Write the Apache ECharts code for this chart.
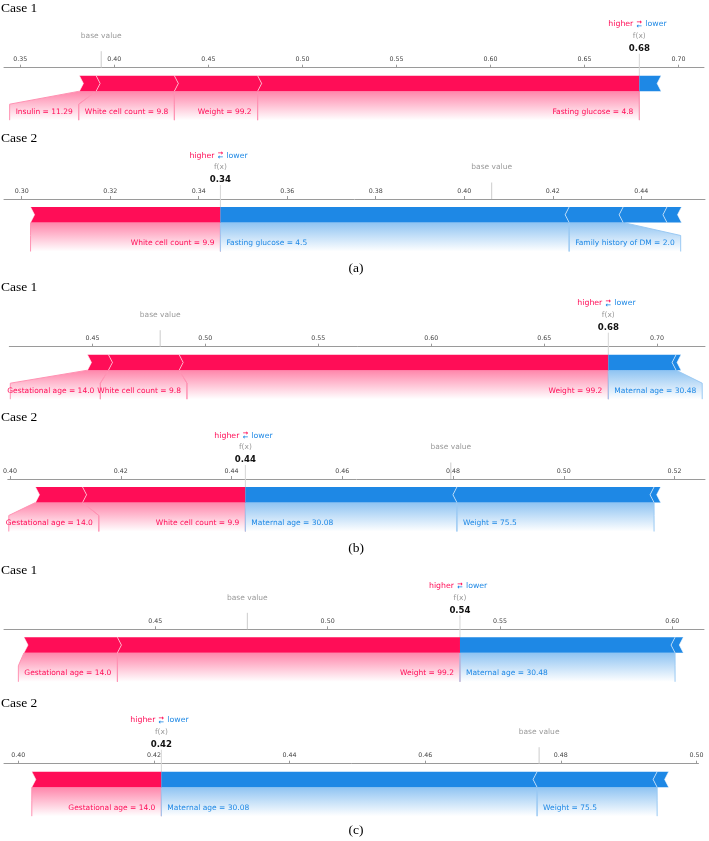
<!DOCTYPE html>
<html><head><meta charset="utf-8">
<script src="https://cdn.jsdelivr.net/npm/echarts@6/dist/echarts.min.js"></script>
<style>html,body{margin:0;padding:0;background:#fff}#c{width:709px;height:841px}</style>
</head><body><div id="c"></div><script>
// ---------------- data ----------------
const caseTitles = ['Case 1', 'Case 2', 'Case 1', 'Case 2', 'Case 1', 'Case 2'];
const groupLabels = ['(a)', '(b)', '(c)'];
const baseValues = [0.3930, 0.4062, 0.4800, 0.4796, 0.4767, 0.4768];

const a1Names = ['Fasting glucose = 4.8', 'Weight = 99.2', 'White cell count = 9.8', 'Insulin = 11.29', ''];
const a1Effects = [0.2030, 0.0443, 0.0416, 0.0089, -0.0116];
const a2Names = ['White cell count = 9.9', 'Fasting glucose = 4.5', 'Family history of DM = 2.0', '', ''];
const a2Effects = [0.0429, -0.0788, -0.0122, -0.0099, -0.0033];
const b1Names = ['Weight = 99.2', 'White cell count = 9.8', 'Gestational age = 14.0', 'Maternal age = 30.48', ''];
const b1Effects = [0.1900, 0.0313, 0.0093, -0.0300, -0.0022];
const b2Names = ['White cell count = 9.9', 'Gestational age = 14.0', 'Maternal age = 30.08', 'Weight = 75.5', ''];
const b2Effects = [0.0294, 0.0085, -0.0382, -0.0356, -0.0012];
const c1Names = ['Weight = 99.2', 'Gestational age = 14.0', 'Maternal age = 30.48', ''];
const c1Effects = [0.0994, 0.0271, -0.0624, -0.0024];
const c2Names = ['Gestational age = 14.0', 'Maternal age = 30.08', 'Weight = 75.5', ''];
const c2Effects = [0.0191, -0.0554, -0.0177, -0.0017];

const a1Ticks = [0.35, 0.40, 0.45, 0.50, 0.55, 0.60, 0.65, 0.70];
const a2Ticks = [0.30, 0.32, 0.34, 0.36, 0.38, 0.40, 0.42, 0.44];
const b1Ticks = [0.45, 0.50, 0.55, 0.60, 0.65, 0.70];
const b2Ticks = [0.40, 0.42, 0.44, 0.46, 0.48, 0.50, 0.52];
const c1Ticks = [0.45, 0.50, 0.55, 0.60];
const c2Ticks = [0.40, 0.42, 0.44, 0.46, 0.48, 0.50];

const axisMins = [0.3413, 0.2960, 0.4132, 0.3996, 0.4061, 0.3979];
const axisMaxs = [0.7136, 0.4544, 0.7212, 0.5255, 0.6092, 0.5003];

// ---------------- layout / style ----------------
const RED = '#ff0d57', BLUE = '#1e88e5';
const RED_LINE = '#ff92b3', BLUE_LINE = '#9ac9f3';
const axisY = [67.7, 199, 346.7, 479, 629.3, 763.7];
const gridLeft = [4, 4, 9.3, 4, 4, 4];
const gridRight = [5, 4, 4, 4, 5, 10.5];
const titleY = [8, 138, 287, 417, 570.7, 703.3];
const groupY = [268, 548, 830];
const SANS = '"DejaVu Sans"';
const LABEL_FONT = '7.5px ' + SANS;

const panelNames = [a1Names, a2Names, b1Names, b2Names, c1Names, c2Names];
const panelEffects = [a1Effects, a2Effects, b1Effects, b2Effects, c1Effects, c2Effects];
const panelTicks = [a1Ticks, a2Ticks, b1Ticks, b2Ticks, c1Ticks, c2Ticks];

const panels = panelNames.map((names, p) => {
  const effects = panelEffects[p];
  const base = baseValues[p];
  const fx = base + effects.reduce((a, b) => a + b, 0);
  const segs = [];
  let posCum = 0, negCum = 0, firstPos = true, firstNeg = true;
  effects.forEach((e, i) => {
    if (e > 0) {
      const x1 = fx - posCum, x0 = x1 - e; posCum += e;
      segs.push({ x0, x1, sign: 1, name: names[i], atFx: firstPos }); firstPos = false;
    } else {
      const x0 = fx + negCum, x1 = x0 - e; negCum -= e;
      segs.push({ x0, x1, sign: -1, name: names[i], atFx: firstNeg }); firstNeg = false;
    }
  });
  return { base, fx, segs };
});

const mctx = document.createElement('canvas').getContext('2d');
function textWidth(s) { mctx.font = LABEL_FONT; return mctx.measureText(s).width; }
function rgba(hex, a) {
  const n = parseInt(hex.slice(1), 16);
  return 'rgba(' + (n >> 16) + ',' + ((n >> 8) & 255) + ',' + (n & 255) + ',' + a + ')';
}

function computeLayout(p, api, cs) {
  const P = panels[p];
  const fxPx = api.coord([P.fx, 0])[0];
  const pad = 6, out = {}, pos = [], neg = [];
  let prevL = fxPx, prevR = fxPx;
  P.segs.forEach((s, i) => {
    if (!s.name) return;
    const L = api.coord([s.x0, 0])[0], R = api.coord([s.x1, 0])[0];
    const tw = textWidth(s.name);
    if (s.sign > 0) {
      const rR = Math.min(R, prevL);
      const rL = Math.min(L, rR - tw - 2 * pad);
      prevL = rL;
      const o = { rL, rR, tw }; pos.push(o); out[i] = o;
    } else {
      const rL = Math.max(L, prevR);
      const rR = Math.max(R, rL + tw + 2 * pad);
      prevR = rR;
      const o = { rL, rR, tw }; neg.push(o); out[i] = o;
    }
  });
  const leftLim = cs.x + 1, rightLim = cs.x + cs.width - 1;
  if (pos.length && pos[pos.length - 1].rL < leftLim) {
    let lim = leftLim;
    for (let k = pos.length - 1; k >= 0; k--) {
      const o = pos[k]; o.rL = Math.max(o.rL, lim); o.rR = Math.max(o.rR, o.rL + o.tw + 3); lim = o.rR;
    }
  }
  if (neg.length && neg[neg.length - 1].rR > rightLim) {
    let lim = rightLim;
    for (let k = neg.length - 1; k >= 0; k--) {
      const o = neg[k]; o.rR = Math.min(o.rR, lim); o.rL = Math.min(o.rL, o.rR - o.tw - 3); lim = o.rL;
    }
  }
  return out;
}

function makeFeatureRenderer(p) {
  return function (params, api) {
    const cs = params.coordSys;
    const Y = cs.y;
    const top = Y + 8, bot = Y + 23.5, mid = (top + bot) / 2, slant = bot + 13, low = Y + 52.5;
    const seg = panels[p].segs[params.dataIndex];
    const L = api.coord([api.value(0), 0])[0];
    const R = api.coord([api.value(1), 0])[0];
    const h = 4;
    const color = seg.sign > 0 ? RED : BLUE;
    const children = [];
    let pts, notch;
    if (seg.sign > 0) {
      const tip = seg.atFx ? 0 : h;
      pts = [[L, top], [R, top], [R + tip, mid], [R, bot], [L, bot], [L + h, mid]];
      notch = [[L, top], [L + h, mid], [L, bot]];
    } else {
      const tip = seg.atFx ? 0 : h;
      pts = [[L, top], [R, top], [R - h, mid], [R, bot], [L, bot], [L - tip, mid]];
      notch = [[R, top], [R - h, mid], [R, bot]];
    }
    children.push({ type: 'polygon', shape: { points: pts }, style: { fill: color }, z2: 5 });
    children.push({ type: 'polyline', shape: { points: notch }, style: { stroke: 'rgba(255,255,255,0.6)', lineWidth: 1, fill: null }, z2: 6 });
    if (seg.name) {
      const lay = computeLayout(p, api, cs)[params.dataIndex];
      const rL = lay.rL, rR = lay.rR;
      const lc = seg.sign > 0 ? RED_LINE : BLUE_LINE;
      children.push({
        type: 'polygon',
        shape: { points: [[L, bot], [R, bot], [rR, slant], [rR, low], [rL, low], [rL, slant]] },
        style: { fill: new echarts.graphic.LinearGradient(0, 0, 0, 1, [
          { offset: 0, color: rgba(color, 0.5) }, { offset: 1, color: rgba(color, 0) }]) },
        z2: 1
      });
      children.push({ type: 'polyline', shape: { points: [[L, bot], [rL, slant], [rL, low]] }, style: { stroke: lc, lineWidth: 1, fill: null }, z2: 2 });
      children.push({ type: 'polyline', shape: { points: [[R, bot], [rR, slant], [rR, low]] }, style: { stroke: lc, lineWidth: 1, fill: null }, z2: 2 });
      children.push({
        type: 'text', z2: 10,
        style: {
          text: seg.name, x: seg.sign > 0 ? rR - 6 : rL + 6, y: Y + 44,
          align: seg.sign > 0 ? 'right' : 'left', verticalAlign: 'middle',
          font: LABEL_FONT, fill: color
        }
      });
    }
    return { type: 'group', children };
  };
}

function makeAnnotRenderer(p) {
  return function (params, api) {
    const cs = params.coordSys;
    const Y = cs.y;
    const bx = api.coord([api.value(0), 0])[0];
    const fxx = api.coord([api.value(1), 0])[0];
    const fxVal = panels[p].fx;
    return {
      type: 'group',
      children: [
        { type: 'line', shape: { x1: bx, y1: Y - 16.5, x2: bx, y2: Y }, style: { stroke: '#cccccc', lineWidth: 1 } },
        { type: 'text', style: { text: 'base value', x: bx, y: Y - 31.7, align: 'center', verticalAlign: 'middle', font: '7.5px ' + SANS, fill: '#9a9a9a' } },
        { type: 'line', shape: { x1: fxx, y1: Y - 14, x2: fxx, y2: Y + 52.5 }, style: { stroke: '#d6d6d6', lineWidth: 1 } },
        { type: 'text', style: { text: 'higher', x: fxx - 6, y: Y - 43.3, align: 'right', verticalAlign: 'middle', font: '7.8px ' + SANS, fill: RED } },
        { type: 'text', style: { text: 'lower', x: fxx + 6, y: Y - 43.3, align: 'left', verticalAlign: 'middle', font: '7.8px ' + SANS, fill: BLUE } },
        { type: 'text', style: { text: '\u2192', x: fxx, y: Y - 45.3, align: 'center', verticalAlign: 'middle', font: 'bold 6.5px ' + SANS, fill: RED } },
        { type: 'text', style: { text: '\u2190', x: fxx, y: Y - 41.5, align: 'center', verticalAlign: 'middle', font: 'bold 6.5px ' + SANS, fill: BLUE } },
        { type: 'text', style: { text: 'f(x)', x: fxx, y: Y - 31.7, align: 'center', verticalAlign: 'middle', font: '7.5px ' + SANS, fill: '#9a9a9a' } },
        { type: 'text', style: { text: fxVal.toFixed(2), x: fxx, y: Y - 19, align: 'center', verticalAlign: 'middle', font: 'bold 8.6px ' + SANS, fill: '#111' } }
      ]
    };
  };
}

// ---------------- option ----------------
const grids = [], xAxes = [], yAxes = [], series = [];
panels.forEach((P, p) => {
  grids.push({ left: gridLeft[p], right: gridRight[p], top: axisY[p], height: 53 });
  xAxes.push({
    gridIndex: p, type: 'value', position: 'top', min: axisMins[p], max: axisMaxs[p],
    axisLine: { onZero: false, lineStyle: { color: '#9a9a9a', width: 1 } },
    axisTick: { show: true, length: 3, customValues: panelTicks[p], lineStyle: { color: '#9a9a9a' } },
    axisLabel: { customValues: panelTicks[p], formatter: v => v.toFixed(2), fontSize: 6.3, fontFamily: 'DejaVu Sans', color: '#444', margin: 5 },
    splitLine: { show: false }
  });
  yAxes.push({ gridIndex: p, type: 'value', min: 0, max: 1, show: false });
  series.push({
    type: 'custom', xAxisIndex: p, yAxisIndex: p, z: 1, clip: false, silent: true,
    renderItem: makeAnnotRenderer(p),
    encode: { x: [0, 1] },
    data: [[P.base, P.fx]]
  });
  series.push({
    type: 'custom', xAxisIndex: p, yAxisIndex: p, z: 2, clip: false, silent: true,
    renderItem: makeFeatureRenderer(p),
    encode: { x: [0, 1] },
    data: P.segs.map(s => [s.x0, s.x1])
  });
});

const graphics = [];
caseTitles.forEach((t, i) => graphics.push({
  type: 'text', x: 1, y: titleY[i],
  style: { text: t, font: '13.5px "Liberation Serif"', fill: '#000', verticalAlign: 'middle' }
}));
groupLabels.forEach((t, i) => graphics.push({
  type: 'text', x: 356, y: groupY[i],
  style: { text: t, font: '13.5px "Liberation Serif"', fill: '#000', align: 'center', verticalAlign: 'middle' }
}));

const chart = echarts.init(document.getElementById('c'), null, { renderer: 'canvas' });
chart.setOption({
  animation: false,
  backgroundColor: '#fff',
  grid: grids, xAxis: xAxes, yAxis: yAxes, series, graphic: graphics
});
</script></body></html>
